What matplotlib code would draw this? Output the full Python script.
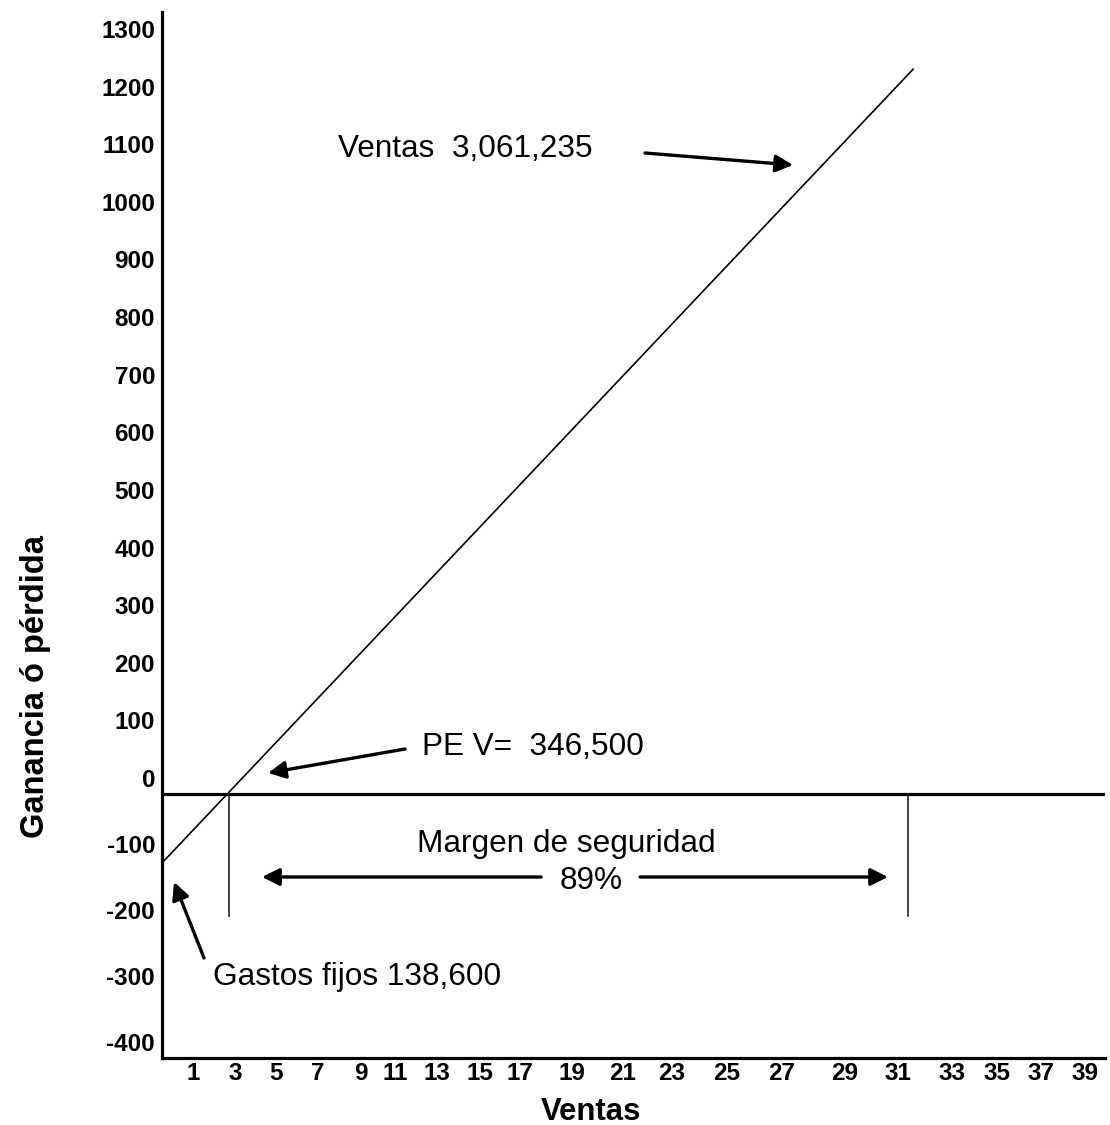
import numpy as np
import matplotlib
matplotlib.use("Agg")
import matplotlib.pyplot as plt
from matplotlib.transforms import ScaledTranslation

plt.rcParams['font.family'] = ['Liberation Sans', 'DejaVu Sans']

# ---------------- data ----------------
x_ticks = [1, 3, 5, 7, 9, 11, 13, 15, 17, 19, 21, 23, 25, 27, 29, 31, 33, 35, 37, 39]
y_ticks = [-400, -300, -200, -100, 0, 100, 200, 300, 400, 500, 600, 700, 800, 900,
           1000, 1100, 1200, 1300]
sales_line_x = [0, 31.56]
sales_line_y = [-104.5, 1258]
breakeven_x = 2.71
margin_end_x = 31.37
guide_bottom_y = -185
text_ventas = "Ventas  3,061,235"
text_pe = "PE V=  346,500"
text_margen = "Margen de seguridad"
text_pct = "89%"
text_gastos = "Gastos fijos 138,600"
xlabel = "Ventas"
ylabel = "Ganancia ó pérdida"

# ---------------- layout ----------------
W, H, DPI = 1110, 1125, 100
AX_L, AX_R, AX_T, AX_B = 162, 1105, 12, 1058
# irregular tick spacing of the original drawing (pixel positions of the ticks)
XK_V = [-10, 0, 1, 3, 5, 7, 9, 11, 13, 15, 17, 19, 21, 23, 25, 27, 29, 31, 33, 35, 37, 39, 40, 50]
XK_P = [-150, 162, 193, 235, 276, 318, 361, 395, 437, 480, 520, 572, 623, 672, 727, 782,
        845, 898, 952, 997, 1041, 1085, 1105, 1325]
POS_PX = 0.5762   # px per unit above zero
NEG_PX = 0.66     # px per unit below zero

def xfwd(v):
    return np.interp(v, XK_V, XK_P)

def xinv(p):
    return np.interp(p, XK_P, XK_V)

def yfwd(v):
    v = np.asarray(v, dtype=float)
    return np.where(v >= 0, v * POS_PX, v * NEG_PX)

def yinv(p):
    p = np.asarray(p, dtype=float)
    return np.where(p >= 0, p / POS_PX, p / NEG_PX)

fig = plt.figure(figsize=(W / DPI, H / DPI), dpi=DPI)
ax = fig.add_axes([AX_L / W, 1 - AX_B / H, (AX_R - AX_L) / W, (AX_B - AX_T) / H])
ax.set_xscale('function', functions=(xfwd, xinv))
ax.set_yscale('function', functions=(yfwd, yinv))
ax.set_xlim(0, 40)
ax.set_ylim(-400, 1300 + (794 - 45 - 0) * 0 + (45 - AX_T) / POS_PX)

for s in ['top', 'right']:
    ax.spines[s].set_visible(False)
for s in ['left', 'bottom']:
    ax.spines[s].set_linewidth(2.3)

ax.set_xticks(x_ticks)
ax.set_xticklabels([str(v) for v in x_ticks], fontsize=17.5, fontweight='bold')
ax.set_yticks(y_ticks)
ax.set_yticklabels([str(v) for v in y_ticks], fontsize=17.5, fontweight='bold')
ax.tick_params(axis='both', length=0)
ax.tick_params(axis='y', pad=5)
ax.tick_params(axis='x', pad=3)
ax.minorticks_off()
shift = ScaledTranslation(0, 16 / DPI, fig.dpi_scale_trans)
for lab in ax.get_yticklabels():
    lab.set_transform(lab.get_transform() + shift)

# zero line
ax.axhline(0, color='black', lw=2.3)
# sales / profit line
ax.plot(sales_line_x, sales_line_y, color='black', lw=1.2)
# guide verticals
ax.plot([breakeven_x, breakeven_x], [0, guide_bottom_y], color='#222222', lw=1.2)
ax.plot([margin_end_x, margin_end_x], [0, guide_bottom_y], color='#222222', lw=1.2)

def fx(px):
    return (px - AX_L) / (AX_R - AX_L)

def fy(py):
    return (AX_B - py) / (AX_B - AX_T)

FS = 22.7
ap = dict(arrowstyle='-|>', lw=2.4, color='black', mutation_scale=26,
          shrinkA=0, shrinkB=0)

ax.text(fx(338), fy(157), text_ventas, transform=ax.transAxes, fontsize=FS,
        ha='left', va='baseline')
ax.annotate('', xy=(fx(793), fy(165)), xytext=(fx(645), fy(153)),
            xycoords='axes fraction', textcoords='axes fraction', arrowprops=ap)

ax.text(fx(422), fy(755), text_pe, transform=ax.transAxes, fontsize=FS,
        ha='left', va='baseline')
ax.annotate('', xy=(fx(268), fy(773)), xytext=(fx(405), fy(749)),
            xycoords='axes fraction', textcoords='axes fraction', arrowprops=ap)

ax.text(fx(566), fy(852), text_margen, transform=ax.transAxes, fontsize=FS,
        ha='center', va='baseline')
ax.text(fx(591), fy(889), text_pct, transform=ax.transAxes, fontsize=FS,
        ha='center', va='baseline')
ax.annotate('', xy=(fx(262), fy(877)), xytext=(fx(541), fy(877)),
            xycoords='axes fraction', textcoords='axes fraction', arrowprops=ap)
ax.annotate('', xy=(fx(888), fy(877)), xytext=(fx(640), fy(877)),
            xycoords='axes fraction', textcoords='axes fraction', arrowprops=ap)

ax.text(fx(213), fy(985), text_gastos, transform=ax.transAxes, fontsize=FS,
        ha='left', va='baseline')
ax.annotate('', xy=(fx(174), fy(882)), xytext=(fx(204), fy(958)),
            xycoords='axes fraction', textcoords='axes fraction', arrowprops=ap)

fig.text(591 / W, 1 - 1120 / H, xlabel, fontsize=22.4, fontweight='bold',
         ha='center', va='baseline')
fig.text(36 / W, 1 - 687 / H, ylabel, fontsize=23.5, fontweight='bold',
         ha='center', va='center', rotation=90)

fig.savefig('out.png', dpi=DPI)
